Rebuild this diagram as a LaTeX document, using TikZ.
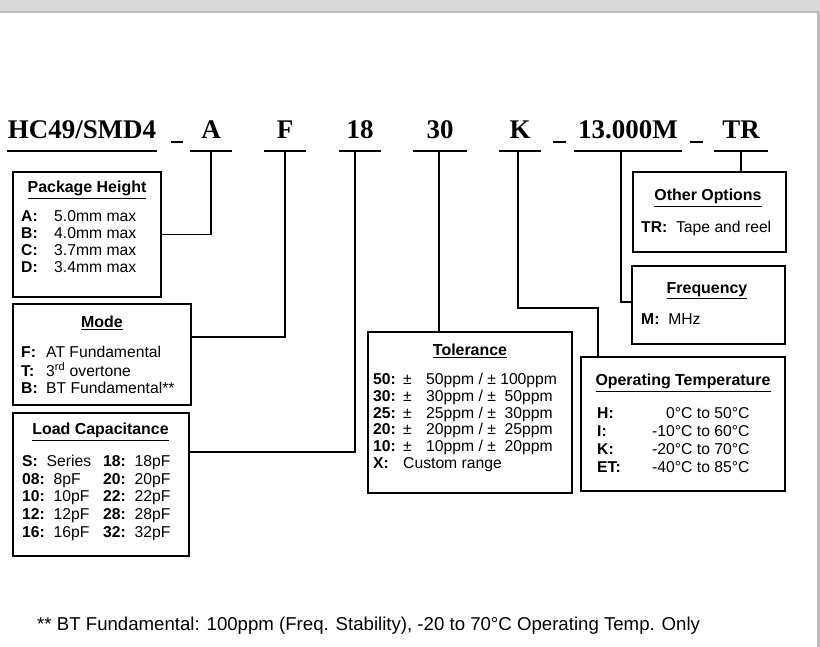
\documentclass[tikz,border=0pt]{standalone}
\usepackage{fontspec}
\setmainfont{Liberation Sans}
\newfontfamily\headfont{Liberation Serif}
\usetikzlibrary{positioning,calc}

\definecolor{barGray}{HTML}{D9D9D9}
\definecolor{edgeGray}{HTML}{BDBDBD}

\newcommand{\boxtitle}[1]{\textbf{\underline{#1}}}

\begin{document}
\begin{tikzpicture}[
  x=0.3mm, y=-0.3mm,
  every node/.style={inner sep=0pt, font=\fontsize{13.4}{14.9}\selectfont},
  part/.style={anchor=south, text height=5.4mm, text depth=3.6mm, font=\headfont\bfseries\fontsize{23}{23}\selectfont},
  infobox/.style={draw, line width=2.4pt},
  title/.style={font=\fontsize{13.6}{15}\selectfont},
  body/.style={anchor=base west, align=left},
  link/.style={line width=1.5pt},
  uline/.style={line width=2.2pt},
]

\useasboundingbox (0,0) rectangle (820,647);
\fill[barGray] (0,0) rectangle (820,11);
\fill[edgeGray] (0,11) rectangle (820,12.7);
\fill[edgeGray] (817,12.7) rectangle (820,647);

% part number fields
\node[part, minimum width=45mm] (hPart) at (82,151) {HC49/SMD4};
\node[part, minimum width=12.6mm] (hA) at (211,151) {A};
\node[part, minimum width=12.6mm] (hF) at (285,151) {F};
\node[part, minimum width=12.6mm] (h18) at (360,151) {18};
\node[part, minimum width=16.2mm] (h30) at (440,151) {30};
\node[part, minimum width=12.6mm] (hK) at (520,151) {K};
\node[part, minimum width=32.4mm] (hFreq) at (628,151) {13.000M};
\node[part, minimum width=16.2mm] (hTR) at (741,151) {TR};

\foreach \h in {hPart,hA,hF,h18,h30,hK,hFreq,hTR}
  \draw[uline] (\h.south west) -- (\h.south east);
\draw[uline] ($(hPart.south east)+(14,-9)$) -- ++(12,0);
\draw[uline] ($(hK.south east)+(12,-9)$) -- ++(13,0);
\draw[uline] ($(hFreq.south east)+(8,-9)$) -- ++(13,0);

% option boxes
\node[infobox, minimum width=44.4mm, minimum height=37.5mm] (pkg) at (87,234.5) {};
\node[title] (pkgTitle) at (87,190) {\boxtitle{Package Height}};
\node[body, font=\fontsize{13.4}{14.5}\selectfont] (pkgBody) at (21,221.5) {%
  \begin{tabular}[t]{@{}p{9.9mm}@{}l@{}}
  \textbf{A:} & 5.0mm max\\
  \textbf{B:} & 4.0mm max\\
  \textbf{C:} & 3.7mm max\\
  \textbf{D:} & 3.4mm max
  \end{tabular}};

\node[infobox, minimum width=53.4mm, minimum height=30.3mm] (mode) at (102,354.5) {};
\node[title] (modeTitle) at (102,323) {\boxtitle{Mode}};
\node[body, font=\fontsize{13.4}{14.5}\selectfont] (modeBody) at (21,357.5) {%
  \begin{tabular}[t]{@{}p{7.5mm}@{}l@{}}
  \textbf{F:} & AT Fundamental\\
  \textbf{T:} & 3\textsuperscript{rd} overtone\\
  \textbf{B:} & BT Fundamental**
  \end{tabular}};

\node[infobox, minimum width=52.8mm, minimum height=42.9mm] (load) at (101,484.5) {};
\node[title] (loadTitle) at (100.5,432) {\boxtitle{Load Capacitance}};
\node[body, font=\fontsize{13.4}{15.1}\selectfont] (loadBody) at (22,466.5) {%
  \begin{tabular}[t]{@{}p{24.3mm}@{}l@{}}
  \textbf{S:}~~Series & \textbf{18:}~~18pF\\
  \textbf{08:}~~8pF & \textbf{20:}~~20pF\\
  \textbf{10:}~~10pF & \textbf{22:}~~22pF\\
  \textbf{12:}~~12pF & \textbf{28:}~~28pF\\
  \textbf{16:}~~16pF & \textbf{32:}~~32pF
  \end{tabular}};

\node[infobox, minimum width=61.2mm, minimum height=48.3mm] (tol) at (470,412.5) {};
\node[title] (tolTitle) at (470,351) {\boxtitle{Tolerance}};
\node[body, font=\fontsize{13.4}{14.3}\selectfont] (tolBody) at (373,384.5) {%
  \begin{tabular}[t]{@{}p{9mm}@{}p{6.9mm}@{}l@{}}
  \textbf{50:} & ± & 50ppm / ± 100ppm\\
  \textbf{30:} & ± & 30ppm / ±~~50ppm\\
  \textbf{25:} & ± & 25ppm / ±~~30ppm\\
  \textbf{20:} & ± & 20ppm / ±~~25ppm\\
  \textbf{10:} & ± & 10ppm / ±~~20ppm\\
  \textbf{X:} & \multicolumn{2}{@{}l@{}}{Custom range}
  \end{tabular}};

\node[infobox, minimum width=45.9mm, minimum height=24mm] (other) at (709.5,212) {};
\node[title] (otherTitle) at (708,198) {\boxtitle{Other Options}};
\node[body] (otherBody) at (641,232.5) {\textbf{TR:}~~Tape and reel};

\node[infobox, minimum width=45.9mm, minimum height=23.4mm] (freq) at (708.5,305) {};
\node[title] (freqTitle) at (707,291) {\boxtitle{Frequency}};
\node[body] (freqBody) at (641,324.5) {\textbf{M:}~~MHz};

\node[infobox, minimum width=61.2mm, minimum height=40.2mm] (temp) at (683,424) {};
\node[title] (tempTitle) at (683,383) {\boxtitle{Operating Temperature}};
\node[body, font=\fontsize{13.4}{15.4}\selectfont] (tempBody) at (597,418.5) {%
  \begin{tabular}[t]{@{}p{16.5mm}@{}r@{}}
  \textbf{H:} & 0°C to 50°C\\
  \textbf{I:} & -10°C to 60°C\\
  \textbf{K:} & -20°C to 70°C\\
  \textbf{ET:} & -40°C to 85°C
  \end{tabular}};

% connectors
\draw[link] (hA.south) |- (pkg.east);
\draw[link] (hF.south) |- ([yshift=5.25mm]mode.east);
\draw[link] ([xshift=-1.5mm]h18.south) |- ([yshift=9.75mm]load.east);
\draw[link] ([xshift=-0.3mm]h30.south) -- ([xshift=-0.3mm]h30.south |- tol.north);
\coordinate (kbend) at (598,308);
\draw[link] ([xshift=-0.6mm]hK.south) |- (kbend) -- (kbend |- temp.north);
\draw[link] ([xshift=-2.1mm]hFreq.south) |- ([yshift=0.9mm]freq.west);
\draw[link] (hTR.south) -- (hTR.south |- other.north);

\node[anchor=west, font=\fontsize{15.9}{18}\selectfont] (note) at (37,626)
  {** BT Fundamental: 100ppm (Freq. Stability), -20 to 70°C Operating Temp. Only};

\end{tikzpicture}
\end{document}
